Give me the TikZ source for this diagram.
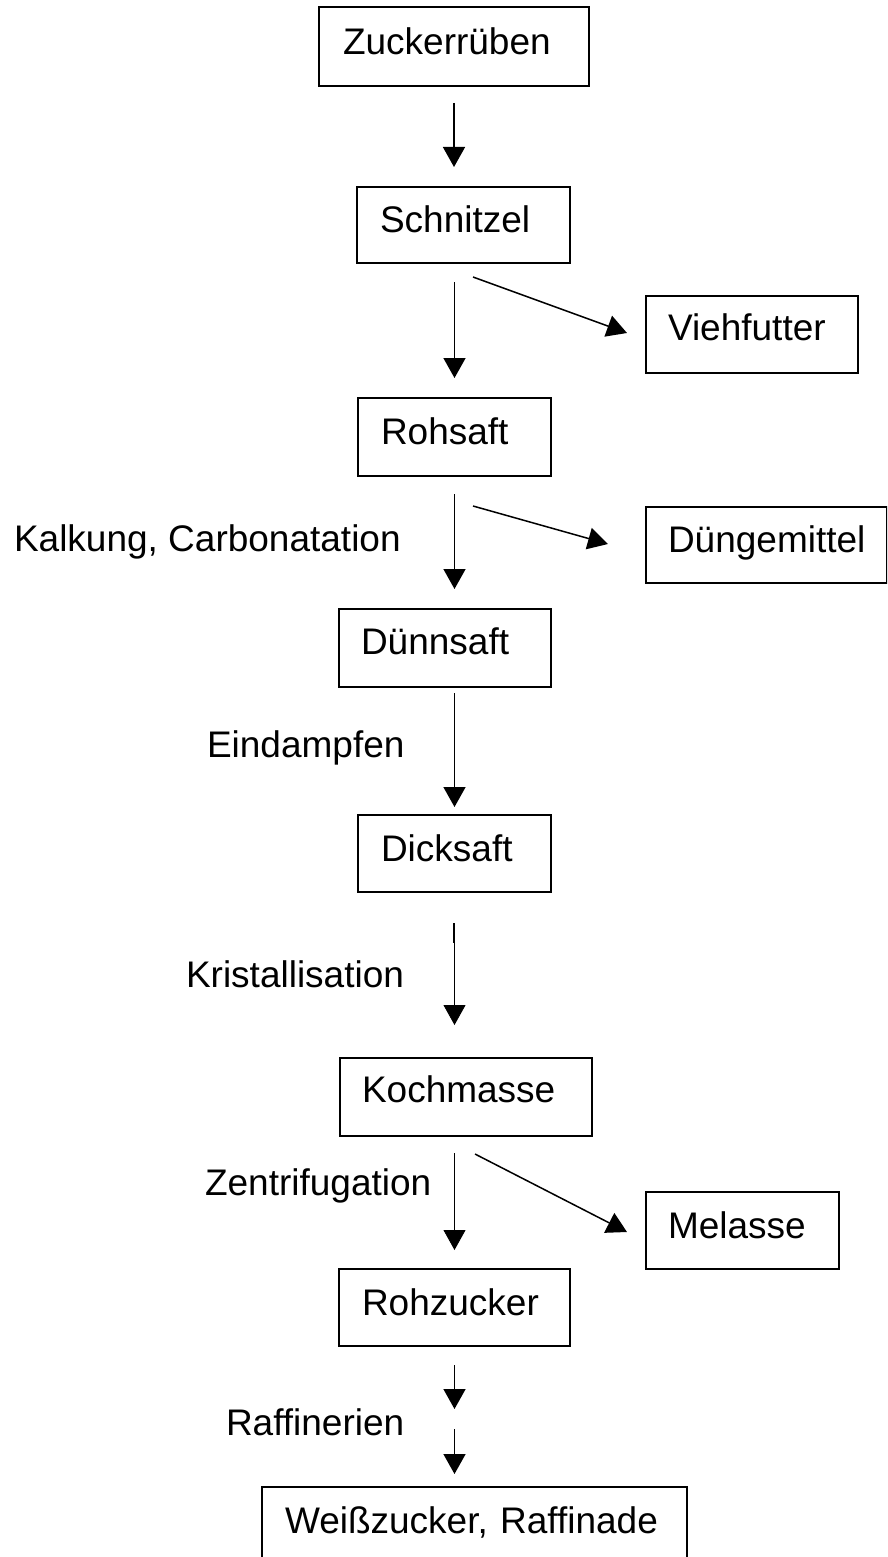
\documentclass[tikz,border=0pt]{standalone}
\usepackage{fontspec}
\setmainfont{Liberation Sans}[Ligatures=NoCommon]
\usetikzlibrary{arrows.meta}

\begin{document}
\begin{tikzpicture}[x=1pt, y=-1pt,
  every node/.style={font=\fontsize{37pt}{44pt}\selectfont, inner sep=0pt, outer sep=0pt},
  stage/.style={draw, line width=1.8pt, anchor=north west, align=left, inner ysep=0pt},
  pad/.style n args={4}{inner xsep=#1, text width=#2, text height=#3, text depth=#4},
  caption/.style={anchor=base west},
  flow/.style={line width=1.5pt, -{Triangle[width=22pt, length=20pt]}},
  fine/.style={line width=0.8pt, -{Triangle[width=22pt, length=20pt]}},
]
\clip (0,0) rectangle (887,1557);

% process stages
\node[stage, pad={24pt}{222pt}{48pt}{31pt}] (zr) at (319,7)    {Zuckerrüben};
\node[stage, pad={23pt}{167pt}{46pt}{30pt}] (sn) at (357,187)  {Schnitzel};
\node[stage, pad={22pt}{168pt}{44pt}{33pt}] (vf) at (646,296)  {Viehfutter};
\node[stage, pad={23pt}{147pt}{46pt}{32pt}] (rs) at (358,398)  {Rohsaft};
\node[stage, pad={22pt}{197pt}{45pt}{31pt}] (dm) at (646,507)  {Düngemittel};
\node[stage, pad={22pt}{168pt}{45pt}{33pt}] (ds) at (339,609)  {Dünnsaft};
\node[stage, pad={23pt}{147pt}{46pt}{31pt}] (dk) at (358,815)  {Dicksaft};
\node[stage, pad={22pt}{208pt}{44pt}{34pt}] (km) at (340,1058) {Kochmasse};
\node[stage, pad={22pt}{149pt}{46pt}{31pt}] (ml) at (646,1192) {Melasse};
\node[stage, pad={23pt}{185pt}{46pt}{31pt}] (rz) at (339,1269) {Rohzucker};
\node[stage, pad={23pt}{379pt}{46pt}{45pt}] (wz) at (262,1487) {Weißzucker, Raffinade};

% step captions
\node[caption] (kalk)  at (14,551)   {Kalkung, Carbonatation};
\node[caption] (eind)  at (207,757)  {Eindampfen};
\node[caption] (krist) at (186,987)  {Kristallisation};
\node[caption] (zent)  at (205,1195) {Zentrifugation};
\node[caption] (raffl) at (226,1435) {Raffinerien};

% main line
\draw[flow, shorten <=17pt, shorten >=20pt] (zr.south) -- (zr.south |- sn.north);
\draw[flow, shorten <=19pt, shorten >=20pt] (sn.south -| rs.north) -- (rs.north);
\draw[flow, shorten <=18pt, shorten >=20pt] (rs.south) -- (rs.south |- ds.north);
\draw[flow, shorten <=6pt,  shorten >=8pt]  (ds.south -| dk.north) -- (dk.north);
\draw[fine, shorten <=31pt, shorten >=33pt] (dk.south) -- (dk.south |- km.north);
\draw[line width=2pt] ([shift={(-0.5,31)}]dk.south) -- ([shift={(-0.5,51)}]dk.south);
\draw[fine, shorten <=17pt, shorten >=19pt] (km.south -| rz.north) -- (rz.north);
\coordinate (raf) at (454.5,1419);
\draw[flow, shorten <=19pt, shorten >=10pt] (rz.south) -- (raf);
\draw[flow, shorten <=10pt, shorten >=13pt] (raf) -- (raf |- wz.north);

% by-products
\draw[flow] ([shift={(9.5,14)}]sn.south)  -- ([shift={(-19,-1.5)}]vf.west);
\draw[flow] ([shift={(18.5,30)}]rs.south) -- ([shift={(-38,-1)}]dm.west);
\draw[flow] ([shift={(9,18)}]km.south)    -- ([shift={(-19,1.5)}]ml.west);
\end{tikzpicture}
\end{document}
